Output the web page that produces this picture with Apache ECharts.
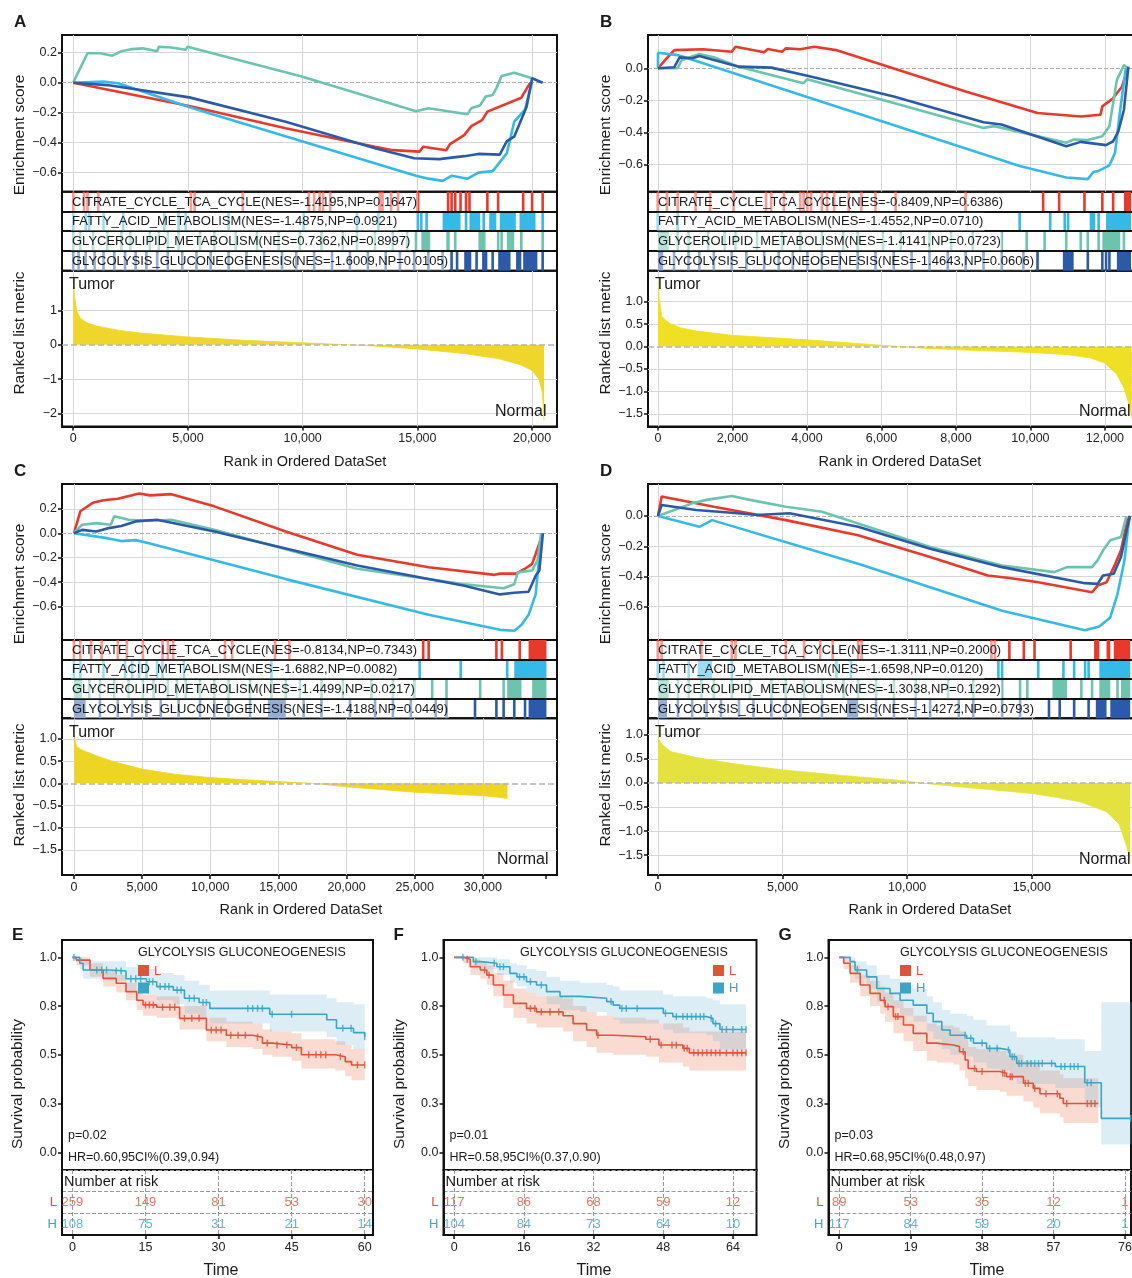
<!DOCTYPE html>
<html>
<head>
<meta charset="utf-8">
<script src="https://cdn.jsdelivr.net/npm/echarts@6/dist/echarts.min.js"></script>
<style>
html,body{margin:0;padding:0;background:#fff;}
#main{width:1132px;height:1278px;}
</style>
</head>
<body>
<div id="main"></div>
<script>
// ---------- GSEA data (rank, enrichment score) ----------
var setNames = ['CITRATE_CYCLE_TCA_CYCLE','FATTY_ACID_METABOLISM','GLYCEROLIPID_METABOLISM','GLYCOLYSIS_GLUCONEOGENESIS'];

// panel A
var nesA = ['NES=-1.4195,NP=0.1647','NES=-1.4875,NP=0.0921','NES=0.7362,NP=0.8997','NES=-1.6009,NP=0.0105'];
var rankTicksA = [0,5000,10000,15000,20000];
var esTicksA = [-0.6,-0.4,-0.2,0,0.2];
var metricTicksA = [-2,-1,0,1];
var esA_citrate = [[0,0],[5210,-0.16],[9260,-0.304],[13150,-0.427],[13930,-0.45],[15090,-0.46],[15250,-0.427],[16260,-0.45],[16420,-0.41],[17040,-0.35],[17350,-0.29],[17820,-0.25],[18050,-0.193],[19530,-0.1],[19920,0]];
var esA_fatty = [[0,0],[1320,0.007],[1950,-0.004],[5210,-0.17],[14940,-0.62],[15480,-0.64],[16100,-0.655],[16500,-0.62],[17190,-0.64],[17660,-0.6],[18280,-0.59],[18440,-0.56],[18900,-0.47],[19220,-0.26],[19690,-0.18],[20000,0.007]];
var esA_glycerolipid = [[0,0],[620,0.196],[1170,0.196],[1710,0.18],[2100,0.21],[2570,0.224],[3030,0.229],[3660,0.21],[3730,0.24],[4280,0.235],[4900,0.22],[4980,0.24],[9880,0.044],[12370,-0.07],[14940,-0.19],[15480,-0.17],[17190,-0.21],[17350,-0.17],[17740,-0.15],[17970,-0.093],[18280,-0.082],[18440,-0.038],[18670,0.044],[19220,0.067],[20000,0.029]];
var esA_glycolysis = [[0,0],[1480,-0.016],[5060,-0.098],[9260,-0.26],[13150,-0.438],[14860,-0.504],[15950,-0.51],[17040,-0.49],[17660,-0.475],[18590,-0.48],[18900,-0.39],[19220,-0.36],[19760,-0.16],[20000,0.03],[20460,0]];
var hitsA_citrate = [0,470,620,1090,5130,5290,7390,10270,10500,10740,10890,11200,[13300,13540],13850,14160,[14940,15090],16340,16490,16650,16880,17120,17270,18050,18520,19610,20000,20460];
var hitsA_fatty = [0,545,700,1320,2180,3970,4590,4900,6770,10040,12370,13300,15020,15170,15400,[16100,16880],17120,[17270,17740],17890,[18130,18440],[18590,19290],[19450,20150],20460];
var hitsA_glycerolipid = [0,310,860,1480,2100,2490,3340,3730,4120,4590,5530,6150,7080,8010,8950,9880,10820,11750,12370,13150,13930,14550,14940,[15170,15560],[16260,16410],16650,[17660,17970],18520,18670,[18900,19220],19530,20460];
var hitsA_glycolysis = [0,230,540,930,1320,1790,2260,2720,3190,3660,4120,4750,5370,5990,6770,7550,8320,9100,9720,10500,11280,12060,12840,13620,14240,14860,15480,16100,16490,16730,[17040,17350],17580,[17820,18050],18280,[18520,19060],[19300,19530],[19610,20230],20460];
var metricA = [[0,1.9],[60,1.4],[150,1.0],[300,0.78],[600,0.64],[1000,0.55],[2000,0.42],[3000,0.34],[5000,0.23],[7500,0.13],[10000,0.06],[12000,0.0],[13000,-0.03],[15000,-0.12],[17000,-0.25],[18500,-0.4],[19500,-0.58],[20000,-0.75],[20300,-1.0],[20450,-1.4],[20520,-2.2]];

// panel B
var nesB = ['NES=-0.8409,NP=0.6386','NES=-1.4552,NP=0.0710','NES=-1.4141,NP=0.0723','NES=-1.4643,NP=0.0606'];
var rankTicksB = [0,2000,4000,6000,8000,10000,12000];
var esTicksB = [-0.6,-0.4,-0.2,0];
var metricTicksB = [-1.5,-1,-0.5,0,0.5,1];
var esB_citrate = [[0,0],[190,0.05],[435,0.113],[1210,0.118],[1980,0.103],[2080,0.134],[2850,0.1],[2950,0.12],[3330,0.103],[3430,0.124],[3820,0.118],[4200,0.134],[4780,0.113],[6040,0.02],[8260,-0.144],[10190,-0.278],[11350,-0.3],[11880,-0.289],[11930,-0.237],[12220,-0.186],[12460,-0.113],[12610,0]];
var esB_fatty = [[0,0],[0,0.097],[530,0.082],[9710,-0.608],[10960,-0.68],[11540,-0.69],[11690,-0.645],[11830,-0.639],[12120,-0.604],[12270,-0.526],[12410,-0.258],[12560,0]];
var esB_glycerolipid = [[0,0],[530,0],[630,0.05],[1110,0.089],[1500,0.068],[2170,0.01],[3910,-0.093],[4010,-0.068],[6330,-0.216],[8740,-0.371],[9030,-0.36],[10960,-0.464],[11160,-0.443],[11540,-0.447],[11930,-0.423],[12120,-0.361],[12320,-0.072],[12510,0.02],[12610,0]];
var esB_glycolysis = [[0,0],[435,0.006],[580,0.068],[920,0.062],[1110,0.076],[2170,0.01],[3040,0.004],[4010,-0.047],[6330,-0.175],[8740,-0.336],[9220,-0.35],[10960,-0.485],[11350,-0.458],[12030,-0.478],[12220,-0.454],[12360,-0.392],[12510,-0.258],[12630,0.01]];
var hitsB_citrate = [0,240,530,1010,1400,2030,2900,3040,3380,3820,3910,4010,4110,4400,4540,4730,5120,5460,5840,6380,8260,10340,10770,11450,11930,12220,[12510,12700]];
var hitsB_fatty = [0,530,9710,10530,10920,11010,[11590,11740],11830,[12030,12700]];
var hitsB_glycerolipid = [[0,290],530,820,1350,1790,2080,2660,3330,3820,4400,4970,5360,6040,6520,7290,7870,8450,9230,9900,10380,10960,11350,11540,11830,[11930,12410],12510];
var hitsB_glycolysis = [[0,140],430,820,1110,1500,1980,2370,2850,3240,3620,4010,4400,4880,5360,5840,6330,6810,7290,7780,8260,8740,9230,9810,10190,[10870,11160],11540,11930,12030,12120,[12320,12700]];
var metricB = [[0,1.45],[30,1.1],[100,0.67],[300,0.52],[600,0.42],[1000,0.35],[2000,0.25],[3000,0.2],[4000,0.15],[5000,0.09],[6000,0.03],[6500,0],[7000,-0.03],[8000,-0.07],[9000,-0.1],[10000,-0.13],[11000,-0.18],[11600,-0.25],[12000,-0.37],[12300,-0.6],[12500,-0.9],[12650,-1.3],[12720,-1.6]];

// panel C
var nesC = ['NES=-0.8134,NP=0.7343','NES=-1.6882,NP=0.0082','NES=-1.4499,NP=0.0217','NES=-1.4188,NP=0.0449'];
var rankTicksC = [0,5000,10000,15000,20000,25000,30000];
var esTicksC = [-0.6,-0.4,-0.2,0,0.2];
var metricTicksC = [-1.5,-1,-0.5,0,0.5,1];
var esC_citrate = [[0,0],[470,0.18],[1390,0.25],[2170,0.27],[3220,0.283],[4790,0.325],[5580,0.31],[7150,0.32],[10300,0.22],[15540,0.014],[20780,-0.175],[26020,-0.278],[30860,-0.34],[31250,-0.33],[32430,-0.33],[33090,-0.29],[33610,-0.25],[34010,-0.125],[34400,0]];
var esC_fatty = [[0,0],[2440,-0.04],[3480,-0.064],[4530,-0.056],[5580,-0.083],[15540,-0.375],[26020,-0.667],[31250,-0.79],[32300,-0.797],[32820,-0.75],[33350,-0.667],[33870,-0.5],[34270,-0.03],[34400,0]];
var esC_glycerolipid = [[0,0],[600,0.07],[1650,0.083],[2700,0.07],[2960,0.14],[4010,0.11],[5580,0.103],[7150,0.11],[10300,0.028],[20780,-0.29],[28640,-0.417],[31510,-0.45],[32300,-0.417],[32560,-0.32],[33610,-0.305],[34010,-0.22],[34270,0]];
var esC_glycolysis = [[0,0],[600,0.028],[1650,0.014],[2440,0.04],[3480,0.06],[4530,0.097],[6100,0.11],[10300,0.014],[20780,-0.264],[28640,-0.43],[31250,-0.5],[32300,-0.486],[33350,-0.478],[33870,-0.347],[34140,-0.305],[34400,0]];
var hitsC_citrate = [0,470,1260,2040,3220,3880,5060,6500,6890,7280,11080,11610,14750,15800,25620,26020,30990,31390,32700,[33350,34660]];
var hitsC_fatty = [0,470,2170,3750,4270,4790,5320,6100,6500,8070,14490,25360,28370,31780,[32300,34660]];
var hitsC_glycerolipid = [[0,600],1130,1910,2960,4010,5060,5840,6890,7550,8200,9250,10300,11340,12920,14490,15540,16580,18160,19730,21820,23400,24970,26280,27330,29800,31520,[31780,32830],[33610,34660]];
var hitsC_glycolysis = [[0,860],1910,3220,4270,5320,6370,7680,9250,10300,11340,12920,[14230,15540],16850,18160,20250,22090,23400,24710,26540,27330,29420,30990,31520,32300,33090,[33350,34660]];
var metricC = [[0,1.21],[50,1.0],[200,0.83],[500,0.76],[1000,0.7],[2000,0.58],[3000,0.48],[5000,0.32],[7500,0.2],[10000,0.13],[12500,0.08],[15000,0.04],[17500,0.0],[20000,-0.08],[22500,-0.14],[25000,-0.2],[27500,-0.24],[30000,-0.28],[31000,-0.31],[31800,-0.34]];

// panel D
var nesD = ['NES=-1.3111,NP=0.2000','NES=-1.6598,NP=0.0120','NES=-1.3038,NP=0.1292','NES=-1.4272,NP=0.0793'];
var rankTicksD = [0,5000,10000,15000];
var esTicksD = [-0.6,-0.4,-0.2,0];
var metricTicksD = [-1.5,-1,-0.5,0,0.5,1];
var esD_citrate = [[0,0],[145,0.129],[2240,0.062],[5130,-0.027],[8030,-0.127],[10920,-0.271],[13230,-0.393],[14100,-0.41],[15260,-0.438],[17420,-0.504],[17640,-0.46],[18000,-0.438],[18290,-0.338],[18580,-0.227],[18840,-0.027],[18940,0]];
var esD_fatty = [[0,0],[1660,-0.071],[2170,-0.027],[8030,-0.316],[13810,-0.627],[17130,-0.756],[17710,-0.731],[18150,-0.671],[18440,-0.516],[18720,-0.293],[18870,-0.07],[18940,0]];
var esD_glycerolipid = [[0,0],[1370,0.084],[1950,0.107],[2960,0.133],[3690,0.107],[5130,0.062],[6580,0.029],[10920,-0.204],[13810,-0.327],[15900,-0.371],[16410,-0.338],[17420,-0.338],[17640,-0.293],[17860,-0.227],[18150,-0.16],[18580,-0.138],[18800,0]];
var esD_glycolysis = [[0,0],[145,0.073],[1520,0.04],[2960,0.022],[3980,0.007],[5280,0.018],[8030,-0.071],[10920,-0.216],[13810,-0.338],[17130,-0.444],[17640,-0.449],[17860,-0.393],[18290,-0.382],[18580,-0.271],[18840,-0.07],[18940,0]];
var hitsD_citrate = [0,145,1740,2960,3110,5130,5860,6510,7010,8030,8170,13380,13520,14100,14680,15110,16560,[17500,17710],[18000,18150],[18290,18950]];
var hitsD_fatty = [0,220,1230,[1590,2170],2960,7160,7740,13660,13810,15260,16270,16700,17140,17280,[17710,18950]];
var hitsD_glycerolipid = [[0,430],800,1230,1740,2240,2960,3690,4550,5130,5860,6580,7450,8030,8750,9470,10340,11640,12650,13810,14530,14820,[15830,16410],16990,17420,[17710,18150],18440,[18580,18950]];
var hitsD_glycolysis = [[0,360],800,1370,1950,2530,3250,3830,4550,5130,5710,6580,[7590,8030],8750,9470,10340,10920,12070,12650,13810,14530,15690,16120,16700,17280,[17570,18000],[18150,18950]];
var metricD = [[0,1.1],[40,0.9],[150,0.8],[500,0.65],[1500,0.53],[3000,0.4],[5000,0.27],[7500,0.15],[10000,0.04],[10500,0.0],[12500,-0.1],[15000,-0.22],[16000,-0.3],[17000,-0.4],[18000,-0.6],[18500,-0.85],[18800,-1.3],[18950,-1.65]];

// ---------- Kaplan-Meier data: [time, survival, lower CI, upper CI] ----------
var kmTicks = [0,0.25,0.5,0.75,1];
var timesE = [0,15,30,45,60];
var riskE_L = [259,149,81,53,30];
var riskE_H = [108,75,31,21,14];
var kmE_L = [[0,1,1,1],[0.8,0.986,0.96,1],[3.6,0.935,0.9,0.97],[6.3,0.892,0.85,0.93],[9,0.867,0.82,0.91],[11,0.824,0.78,0.87],[13.2,0.78,0.73,0.83],[14.5,0.756,0.7,0.81],[17.3,0.744,0.69,0.8],[22,0.687,0.63,0.75],[27.5,0.627,0.57,0.69],[31.6,0.6,0.54,0.67],[37,0.59,0.53,0.66],[39,0.56,0.5,0.63],[41,0.55,0.49,0.62],[45,0.537,0.47,0.61],[47,0.5,0.43,0.58],[54,0.49,0.42,0.57],[56,0.465,0.39,0.55],[57.3,0.448,0.37,0.53],[60,0.448,0.37,0.53]];
var kmE_H = [[0,1,1,1],[1.5,0.97,0.94,1],[2.2,0.935,0.89,0.98],[7.7,0.93,0.88,0.98],[11,0.89,0.83,0.95],[15.2,0.875,0.81,0.94],[17.3,0.85,0.78,0.92],[20.7,0.832,0.76,0.91],[23,0.79,0.71,0.88],[26,0.768,0.69,0.86],[28.2,0.738,0.66,0.83],[40.5,0.708,0.62,0.81],[52.2,0.68,0.59,0.79],[54.2,0.636,0.55,0.77],[57.7,0.614,0.53,0.76],[60,0.593,0.55,0.77]];
var censE_L = [[15,0.756],[15.8,0.756],[16.6,0.756],[18.5,0.744],[20,0.744],[21,0.744],[23,0.687],[24.5,0.687],[26,0.687],[28.5,0.627],[29.5,0.627],[30.5,0.627],[32.5,0.6],[34,0.6],[35.5,0.6],[38,0.59],[40,0.56],[42,0.55],[44,0.55],[46,0.537],[48.5,0.5],[50,0.5],[51,0.5],[52,0.5],[55,0.49],[58.5,0.448],[60,0.448]];
var censE_H = [[0.3,1],[5,0.935],[6,0.935],[7,0.935],[9,0.93],[10,0.93],[12,0.89],[13,0.89],[14,0.89],[15.8,0.875],[16.5,0.875],[18,0.85],[19,0.85],[19.8,0.85],[21.5,0.832],[22.3,0.832],[24,0.79],[25,0.79],[26.8,0.768],[27.5,0.768],[36,0.738],[37,0.738],[38,0.738],[39,0.738],[41,0.708],[45,0.708],[55.5,0.636],[57.2,0.636],[60,0.593]];

var timesF = [0,16,32,48,64];
var riskF_L = [117,86,68,59,12];
var riskF_H = [104,84,73,64,10];
var kmF_L = [[0,1,1,1],[2.1,0.99,0.97,1],[3.7,0.952,0.91,0.99],[6,0.935,0.89,0.98],[7.5,0.909,0.86,0.96],[9,0.858,0.8,0.92],[11.3,0.807,0.74,0.88],[13.6,0.764,0.69,0.84],[16.6,0.738,0.66,0.82],[18.9,0.72,0.64,0.8],[25,0.7,0.62,0.79],[27.3,0.66,0.57,0.75],[30.4,0.627,0.54,0.72],[32.7,0.6,0.51,0.7],[36.5,0.593,0.5,0.69],[44,0.58,0.49,0.68],[47,0.55,0.46,0.66],[52.5,0.533,0.44,0.64],[54,0.51,0.42,0.62],[67,0.51,0.42,0.62]];
var kmF_H = [[0,1,1,1],[4.4,0.978,0.95,1],[6,0.97,0.94,1],[9.8,0.952,0.91,0.99],[12.8,0.918,0.87,0.97],[14.4,0.9,0.85,0.96],[16.6,0.875,0.82,0.94],[18.9,0.858,0.8,0.93],[21.2,0.824,0.76,0.9],[24.3,0.8,0.73,0.88],[28.9,0.79,0.72,0.87],[35,0.773,0.7,0.86],[36.5,0.755,0.68,0.85],[38,0.738,0.66,0.83],[48,0.713,0.63,0.81],[50.2,0.696,0.61,0.8],[57.9,0.687,0.6,0.79],[59.4,0.66,0.57,0.78],[61,0.63,0.53,0.76],[67,0.63,0.53,0.76]];
var censF_L = [[3,0.99],[7,0.935],[8,0.909],[17.5,0.738],[18.5,0.738],[20,0.72],[22,0.72],[24,0.72],[33,0.6],[45,0.58],[47.5,0.55],[50,0.55],[51,0.55],[52.8,0.533],[53.5,0.533],[55,0.51],[56,0.51],[57,0.51],[58,0.51],[59,0.51],[60,0.51],[61,0.51],[62.5,0.51],[64,0.51],[65,0.51],[66,0.51],[67,0.51]];
var censF_H = [[2,1],[5,0.978],[9.2,0.97],[10.5,0.952],[11.3,0.952],[15,0.9],[16,0.9],[17.5,0.875],[20,0.858],[36,0.773],[38.5,0.738],[39.5,0.738],[42,0.738],[48.5,0.713],[51,0.696],[52.5,0.696],[53.5,0.696],[54.5,0.696],[55.5,0.696],[56.5,0.696],[57.3,0.696],[59,0.687],[60,0.66],[61.5,0.63],[62.5,0.63],[64,0.63],[66,0.63],[67,0.63]];

var timesG = [0,19,38,57,76];
var riskG_L = [89,53,35,12,1];
var riskG_H = [117,84,59,20,1];
var kmG_L = [[0,1,1,1],[1.2,0.97,0.94,1],[2.9,0.918,0.87,0.96],[5.6,0.858,0.8,0.91],[8.2,0.815,0.75,0.88],[10.9,0.78,0.71,0.85],[12.2,0.747,0.67,0.82],[14.4,0.696,0.61,0.78],[17.1,0.653,0.57,0.74],[19.7,0.61,0.52,0.7],[23.3,0.56,0.47,0.66],[25.9,0.55,0.46,0.65],[30.4,0.542,0.45,0.64],[32,0.516,0.42,0.62],[33.5,0.473,0.38,0.58],[34.3,0.43,0.34,0.54],[36.5,0.414,0.32,0.53],[42.7,0.405,0.31,0.52],[44.5,0.388,0.29,0.5],[49,0.354,0.26,0.47],[51.6,0.328,0.23,0.45],[53.4,0.3,0.2,0.42],[58.7,0.277,0.18,0.4],[59.6,0.25,0.15,0.38],[68.9,0.25,0.15,0.38]];
var kmG_H = [[0,1,1,1],[2.9,0.978,0.95,1],[4.2,0.935,0.89,0.98],[7.3,0.9,0.84,0.96],[10,0.84,0.77,0.91],[13.5,0.815,0.74,0.89],[16.2,0.78,0.7,0.86],[19.7,0.755,0.67,0.84],[23.3,0.713,0.62,0.8],[25,0.67,0.58,0.77],[27.3,0.627,0.53,0.73],[29.5,0.6,0.5,0.71],[33.9,0.585,0.49,0.7],[35.7,0.56,0.46,0.68],[39.2,0.533,0.43,0.65],[42.7,0.525,0.42,0.65],[45.4,0.49,0.38,0.62],[47.2,0.456,0.35,0.59],[57.5,0.44,0.33,0.58],[65.3,0.357,0.23,0.52],[69.7,0.174,0.04,0.77],[77.8,0.174,0.04,0.77]];
var censG_L = [[12,0.78],[13,0.747],[15,0.696],[15.6,0.696],[33,0.516],[36,0.43],[38,0.414],[43.5,0.405],[44,0.405],[45.5,0.388],[46,0.388],[49.5,0.354],[50.3,0.354],[52,0.328],[55,0.3],[58,0.3],[60.5,0.25],[66,0.25],[67,0.25],[68,0.25]];
var censG_H = [[4.8,0.935],[33.5,0.6],[35,0.585],[38,0.56],[40,0.533],[42,0.533],[45,0.525],[46,0.49],[46.6,0.49],[47.8,0.456],[48.5,0.456],[50,0.456],[51,0.456],[52,0.456],[53,0.456],[54,0.456],[56.5,0.456],[59,0.44],[60,0.44],[61.5,0.44],[62.5,0.44],[63.5,0.44],[66,0.357],[67,0.357],[77.5,0.174]];

// ---------- styles ----------
var FONT = '"Liberation Sans", Arial, sans-serif';
var SET_COLORS = ['#E8392B', '#35B9E9', '#6CC4AE', '#2B5BA8'];
var KM_L = '#E0533B', KM_H = '#3AA5C5';

function minus(s){ return String(s).replace('-', '\u2212'); }
function fmtDec(d){ return function(v){ return minus(Number(v).toFixed(d)); }; }
function fmtRank(v){ return String(Math.round(v)).replace(/\B(?=(\d{3})+(?!\d))/g, ','); }

var grids = [], xAxes = [], yAxes = [], series = [], graphics = [];

function addGrid(box, xa, ya){
  var i = grids.length;
  grids.push({left: box[0], top: box[1], width: box[2] - box[0], height: box[3] - box[1],
    show: true, borderColor: '#111', borderWidth: 2, backgroundColor: 'transparent',
    containLabel: false, outerBoundsMode: 'none'});
  xa.gridIndex = i; ya.gridIndex = i;
  xAxes.push(xa); yAxes.push(ya);
  return i;
}
function hiddenX(min, max){
  return {type: 'value', min: min, max: max, axisLine: {show: false, onZero: false}, axisTick: {show: false}, axisLabel: {show: false}, splitLine: {show: false}};
}
function tickedY(min, max, ticks, fmt){
  return {type: 'value', min: min, max: max,
    axisLine: {show: true, onZero: false, lineStyle: {color: '#111', width: 2}},
    axisTick: {show: true, length: 4, lineStyle: {color: '#111', width: 1.5}, customValues: ticks},
    axisLabel: {show: true, customValues: ticks, formatter: fmt, color: '#222', fontSize: 12.5, fontFamily: FONT, margin: 5},
    splitLine: {show: false}};
}
function tickedX(min, max, ticks, fmt, extra){
  return {type: 'value', min: min, max: max,
    axisLine: {show: true, onZero: false, lineStyle: {color: '#111', width: 2}},
    axisTick: {show: true, length: 4, lineStyle: {color: '#111', width: 1.5}, customValues: ticks.concat(extra || [])},
    axisLabel: {show: true, customValues: ticks, formatter: fmt, color: '#222', fontSize: 12.5, fontFamily: FONT, margin: 6},
    splitLine: {show: false}};
}
function refLines(i, xs, ys, style, z){
  var d = xs.map(function(v){ return {xAxis: v}; }).concat(ys.map(function(v){ return {yAxis: v}; }));
  series.push({type: 'line', xAxisIndex: i, yAxisIndex: i, data: [], silent: true, z: z,
    markLine: {silent: true, symbol: ['none', 'none'], z: z, animation: false, label: {show: false}, lineStyle: style, data: d}});
}
function txt(x, y, s, o){
  o = o || {};
  var st = {text: s, font: (o.weight || 'normal') + ' ' + (o.size || 13) + 'px ' + FONT, fill: o.color || '#1a1a1a',
    align: o.align || 'left', textAlign: o.align || 'left', verticalAlign: 'middle', textVerticalAlign: 'middle'};
  if (o.bg) { st.backgroundColor = o.bg; st.padding = o.pad; }
  graphics.push({type: 'text', x: x, y: y, rotation: o.rot || 0, z: 100, silent: true, style: st});
}

// ---------- GSEA panel ----------
function gseaPanel(p){
  var iE = addGrid([p.left, p.top, p.right, p.esBottom], hiddenX(p.xMin, p.xMax), tickedY(p.esMin, p.esMax, p.esTicks, fmtDec(1)));
  refLines(iE, p.xTicks, p.esTicks.filter(function(v){ return v !== 0; }), {color: '#d6d6d6', width: 1, type: 'solid'}, 1);
  refLines(iE, [], [0], {color: '#b0b0b0', width: 1, type: 'dashed'}, 2);
  p.es.forEach(function(d, k){
    series.push({type: 'line', xAxisIndex: iE, yAxisIndex: iE, data: d, symbol: 'none', silent: true, z: 3,
      lineStyle: {color: SET_COLORS[k], width: 2.6}, itemStyle: {color: SET_COLORS[k]}});
  });

  var iB = addGrid([p.left, p.esBottom, p.right, p.barBottom], hiddenX(p.xMin, p.xMax), {type: 'value', min: 0, max: 4, inverse: true, show: false});
  var bd = [];
  p.hits.forEach(function(list, r){
    list.forEach(function(h){ var a = Array.isArray(h) ? h : [h, h]; bd.push([a[0], a[1], r]); });
  });
  series.push({type: 'custom', xAxisIndex: iB, yAxisIndex: iB, data: bd, silent: true, z: 2,
    encode: {x: [0, 1], y: 2},
    renderItem: function(params, api){
      var r = api.value(2);
      var a = api.coord([api.value(0), r]), b = api.coord([api.value(1), r + 1]);
      var x = a[0], w = b[0] - a[0];
      if (w < 2.6) { x = (a[0] + b[0]) / 2 - 1.3; w = 2.6; }
      return {type: 'rect', shape: {x: x, y: Math.min(a[1], b[1]), width: w, height: Math.abs(b[1] - a[1])}, style: {fill: SET_COLORS[r]}};
    },
    markLine: {silent: true, symbol: ['none', 'none'], z: 5, animation: false, label: {show: false},
      lineStyle: {color: '#111', width: 1.8, type: 'solid'}, data: [{yAxis: 1}, {yAxis: 2}, {yAxis: 3}]}
  });
  var rh = (p.barBottom - p.esBottom) / 4;
  for (var r = 0; r < 4; r++) {
    txt(p.left + 9, p.esBottom + rh * (r + 0.5) + 0.5, setNames[r] + '(' + p.nes[r] + ')',
      {size: 13, bg: 'rgba(255,255,255,0.5)', pad: [3, 1, 2, 1], color: '#1a1a1a'});
  }

  var iM = addGrid([p.left, p.barBottom, p.right, p.mBottom], tickedX(p.xMin, p.xMax, p.xTicks, fmtRank, p.extraTicks), tickedY(p.mMin, p.mMax, p.mTicks, p.mFmt));
  refLines(iM, p.xTicks, p.mTicks.filter(function(v){ return v !== 0; }), {color: '#d6d6d6', width: 1, type: 'solid'}, 1);
  series.push({type: 'line', xAxisIndex: iM, yAxisIndex: iM, data: p.metric, symbol: 'none', silent: true, z: 2,
    lineStyle: {color: p.yellow, width: 0.8}, itemStyle: {color: p.yellow}, areaStyle: {color: p.yellow, opacity: 1, origin: 'auto'}});
  refLines(iM, [], [0], {color: '#b5b5b5', width: 1.5, type: 'dashed'}, 4);

  txt(p.left + 7, p.barBottom + 14, 'Tumor', {size: 16});
  txt(p.normalX, p.mBottom - 15, 'Normal', {size: 16});
  txt(p.titleX, p.mBottom + 35, 'Rank in Ordered DataSet', {size: 14.5, align: 'center'});
  txt(p.left - 42, 135 + p.top - 35, 'Enrichment score', {size: 15.5, align: 'center', rot: Math.PI / 2});
  txt(p.left - 42, p.metricLabelY, 'Ranked list metric', {size: 15.5, align: 'center', rot: Math.PI / 2});
  txt(p.left - 48, p.top - 13, p.letter, {size: 17, weight: 'bold'});
}

gseaPanel({letter: 'A', left: 62, right: 557, top: 35, esBottom: 191.7, barBottom: 270.7, mBottom: 426.5,
  xMin: -490, xMax: 21085, xTicks: rankTicksA, esMin: -0.727, esMax: 0.318, esTicks: esTicksA,
  mMin: -2.38, mMax: 2.16, mTicks: metricTicksA, mFmt: fmtDec(0),
  es: [esA_citrate, esA_fatty, esA_glycerolipid, esA_glycolysis],
  hits: [hitsA_citrate, hitsA_fatty, hitsA_glycerolipid, hitsA_glycolysis],
  nes: nesA, metric: metricA, yellow: '#F0D62A', normalX: 495, titleX: 305, metricLabelY: 333});

gseaPanel({letter: 'B', left: 648, right: 1134, top: 35, esBottom: 191.7, barBottom: 270.7, mBottom: 426.5,
  xMin: -268, xMax: 12780, xTicks: rankTicksB, esMin: -0.768, esMax: 0.207, esTicks: esTicksB,
  mMin: -1.78, mMax: 1.69, mTicks: metricTicksB, mFmt: fmtDec(1),
  es: [esB_citrate, esB_fatty, esB_glycerolipid, esB_glycolysis],
  hits: [hitsB_citrate, hitsB_fatty, hitsB_glycerolipid, hitsB_glycolysis],
  nes: nesB, metric: metricB, yellow: '#F0E024', normalX: 1079, titleX: 900, metricLabelY: 333});

gseaPanel({letter: 'C', left: 62, right: 557, top: 484, esBottom: 640, barBottom: 718.3, mBottom: 875,
  xMin: -873, xMax: 35435, xTicks: rankTicksC, extraTicks: [34600], esMin: -0.873, esMax: 0.403, esTicks: esTicksC,
  mMin: -2.065, mMax: 1.464, mTicks: metricTicksC, mFmt: fmtDec(1),
  es: [esC_citrate, esC_fatty, esC_glycerolipid, esC_glycolysis],
  hits: [hitsC_citrate, hitsC_fatty, hitsC_glycerolipid, hitsC_glycolysis],
  nes: nesC, metric: metricC, yellow: '#EED523', normalX: 497, titleX: 301, metricLabelY: 785});

gseaPanel({letter: 'D', left: 648, right: 1134, top: 484, esBottom: 640, barBottom: 718.3, mBottom: 875,
  xMin: -402, xMax: 19102, xTicks: rankTicksD, esMin: -0.82, esMax: 0.212, esTicks: esTicksD,
  mMin: -1.91, mMax: 1.34, mTicks: metricTicksD, mFmt: fmtDec(1),
  es: [esD_citrate, esD_fatty, esD_glycerolipid, esD_glycolysis],
  hits: [hitsD_citrate, hitsD_fatty, hitsD_glycerolipid, hitsD_glycolysis],
  nes: nesD, metric: metricD, yellow: '#E4E23E', normalX: 1079, titleX: 930, metricLabelY: 785});

// ---------- KM panel ----------
function ciBand(i, rows, color){
  // one stepped polygon from the upper/lower CI columns
  series.push({type: 'custom', xAxisIndex: i, yAxisIndex: i, silent: true, z: 1,
    data: rows.map(function(r){ return [r[0], r[2], r[3]]; }),
    encode: {x: 0, y: [1, 2]},
    renderItem: function(params, api){
      if (params.dataIndex !== 0) return null;
      var up = [], lo = [];
      for (var k = 0; k < rows.length; k++) {
        var t0 = rows[k][0], t1 = k + 1 < rows.length ? rows[k + 1][0] : rows[k][0];
        up.push(api.coord([t0, rows[k][3]]), api.coord([t1, rows[k][3]]));
        lo.push(api.coord([t0, rows[k][2]]), api.coord([t1, rows[k][2]]));
      }
      return {type: 'polygon', shape: {points: up.concat(lo.reverse())}, style: {fill: color}};
    }});
}

function kmPanel(p){
  var i = addGrid([p.left, 940, p.right, 1170], hiddenX(p.xMin, p.xMax), tickedY(-0.091, 1.089, kmTicks, fmtDec(1)));
  var groups = [[p.L, p.cL, KM_L, 'rgba(236,125,95,0.28)'], [p.H, p.cH, KM_H, 'rgba(125,185,215,0.26)']];
  groups.forEach(function(g){ ciBand(i, g[0], g[3]); });
  groups.forEach(function(g){
    series.push({type: 'line', xAxisIndex: i, yAxisIndex: i, step: 'end', symbol: 'none', silent: true, z: 3,
      data: g[0].map(function(r){ return [r[0], r[1]]; }), lineStyle: {color: g[2], width: 1.6}, itemStyle: {color: g[2]}});
    series.push({type: 'scatter', xAxisIndex: i, yAxisIndex: i, silent: true, z: 4, data: g[1],
      symbol: 'rect', symbolSize: [1.5, 7], itemStyle: {color: g[2]}});
  });

  var j = addGrid([p.left, 1170, p.right, 1235],
    tickedX(p.xMin, p.xMax, p.times, function(v){ return String(v); }),
    {type: 'category', data: ['', 'L', 'H'], inverse: true,
      axisLine: {show: true, onZero: false, lineStyle: {color: '#111', width: 2}}, axisTick: {show: false},
      axisLabel: {show: true, fontSize: 13, fontFamily: FONT, margin: 5, color: function(v){ return v === 'L' ? KM_L : KM_H; }},
      splitLine: {show: true, lineStyle: {color: '#9a9a9a', width: 1, type: 'dashed'}}});
  [[1, p.riskL, KM_L], [2, p.riskH, KM_H]].forEach(function(g, k){
    var s = {type: 'scatter', xAxisIndex: j, yAxisIndex: j, silent: true, z: 4, symbolSize: 0,
      data: p.times.map(function(t, n){ return [t, g[0], g[1][n]]; }),
      label: {show: true, position: 'inside', formatter: function(q){ return q.value[2]; }, color: g[2], fontSize: 13, fontFamily: FONT}};
    if (k === 0) {
      s.markLine = {silent: true, symbol: ['none', 'none'], z: 2, animation: false, label: {show: false},
        lineStyle: {color: '#9a9a9a', width: 1, type: 'dashed'}, data: p.times.map(function(t){ return {xAxis: t}; })};
    }
    series.push(s);
  });

  txt(p.left + 2, 1182, 'Number at risk', {size: 14.5});
  txt(p.titleX, 953, 'GLYCOLYSIS GLUCONEOGENESIS', {size: 12.5});
  graphics.push({type: 'rect', z: 100, silent: true, shape: {x: p.legX, y: 965, width: 11, height: 11}, style: {fill: KM_L}});
  graphics.push({type: 'rect', z: 100, silent: true, shape: {x: p.legX, y: 982.5, width: 11, height: 11}, style: {fill: KM_H}});
  txt(p.legX + 16, 971, 'L', {size: 13, color: KM_L});
  if (p.showH) txt(p.legX + 16, 988.5, 'H', {size: 13, color: KM_H});
  txt(p.left + 6, 1136, p.pval, {size: 12.5});
  txt(p.left + 6, 1158, p.hr, {size: 12.5});
  txt(p.left - 44, 1084, 'Survival probability', {size: 15.5, align: 'center', rot: Math.PI / 2});
  txt(p.timeX, 1271, 'Time', {size: 16, align: 'center'});
  txt(p.left - 50, 935, p.letter, {size: 17, weight: 'bold'});
}

kmPanel({letter: 'E', left: 62, right: 373, xMin: -2.14, xMax: 61.7, L: kmE_L, H: kmE_H, cL: censE_L, cH: censE_H,
  times: timesE, riskL: riskE_L, riskH: riskE_H, titleX: 138, legX: 138, showH: false,
  pval: 'p=0.02', hr: 'HR=0.60,95CI%(0.39,0.94)', timeX: 221});
kmPanel({letter: 'F', left: 443.5, right: 756.5, xMin: -2.45, xMax: 69.4, L: kmF_L, H: kmF_H, cL: censF_L, cH: censF_H,
  times: timesF, riskL: riskF_L, riskH: riskF_H, titleX: 520, legX: 713, showH: true,
  pval: 'p=0.01', hr: 'HR=0.58,95CI%(0.37,0.90)', timeX: 594});
kmPanel({letter: 'G', left: 828.5, right: 1131, xMin: -2.84, xMax: 77.6, L: kmG_L, H: kmG_H, cL: censG_L, cH: censG_H,
  times: timesG, riskL: riskG_L, riskH: riskG_H, titleX: 900, legX: 900, showH: true,
  pval: 'p=0.03', hr: 'HR=0.68,95CI%(0.48,0.97)', timeX: 987});

var chart = echarts.init(document.getElementById('main'), null, {renderer: 'canvas'});
chart.setOption({
  animation: false,
  backgroundColor: '#ffffff',
  textStyle: {fontFamily: FONT},
  grid: grids,
  xAxis: xAxes,
  yAxis: yAxes,
  series: series,
  graphic: {elements: graphics}
});
</script>
</body>
</html>
